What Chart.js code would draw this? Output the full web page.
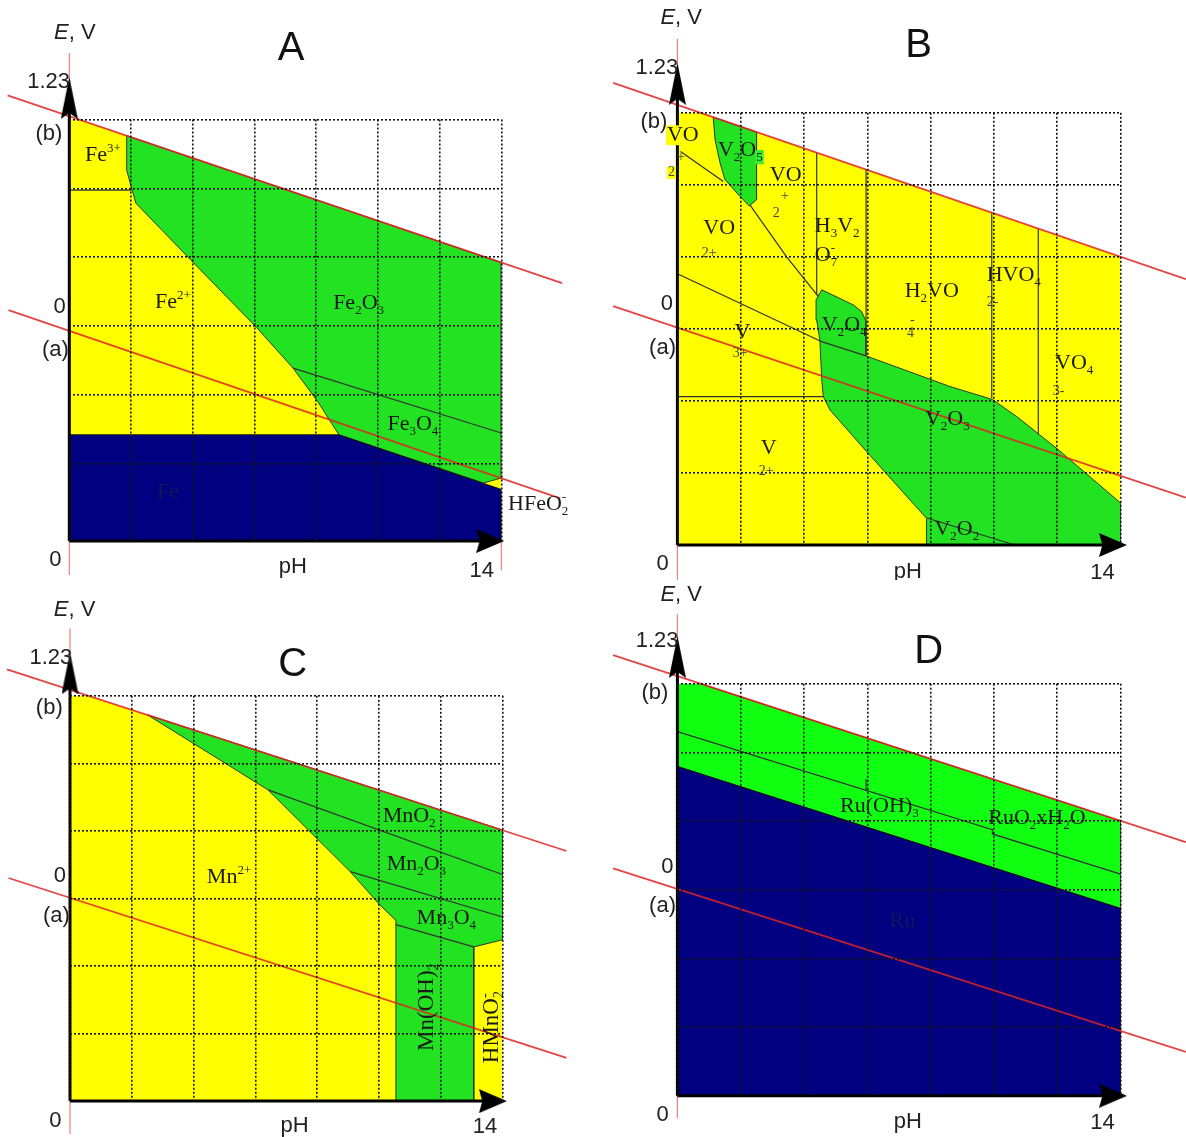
<!DOCTYPE html>
<html><head><meta charset="utf-8">
<script src="https://cdn.jsdelivr.net/npm/chart.js@4.4.1/dist/chart.umd.min.js"></script>
<style>
html,body{margin:0;padding:0;background:#fff;}
#wrap{position:relative;width:1186px;height:1137px;overflow:hidden;background:#fff;}
#wrap canvas{position:absolute;}
</style></head><body>
<div id="wrap">
<canvas id="cA" width="593" height="580" style="left:0;top:0"></canvas>
<canvas id="cB" width="593" height="580" style="left:593px;top:0"></canvas>
<canvas id="cC" width="593" height="557" style="left:0;top:580px"></canvas>
<canvas id="cD" width="593" height="557" style="left:593px;top:580px"></canvas>
</div>
<script>
// ---------- shared axis values ----------
const pHTicks = [0, 2, 4, 6, 8, 10, 12, 14];
const gridE = [-0.8, -0.4, 0, 0.4, 0.8, 1.2];
const eTop = 1.2;
const eMinA = -1.25, eMinB = -1.2, eMinC = -1.2, eMinD = -1.2;

// ---------- Panel A : Fe ----------
const A_waterB = [[-2.0, 1.340], [15.97, 0.249]];
const A_waterA = [[-1.97, 0.092], [15.91, -1.002]];
const A_yellow = [[0, 1.219], [14, 0.369], [14, -1.25], [0, -1.25]];
const A_green = [[1.86, 1.106], [14, 0.369], [14, -0.884], [13.42, -0.913], [8.74, -0.633], [8.05, -0.439], [7.25, -0.245], [6.07, -0.009], [4.08, 0.357], [2.16, 0.713], [2.02, 0.80], [1.86, 0.906]];
const A_navy = [[0, -0.633], [8.74, -0.633], [14, -0.95], [14, -1.25], [0, -1.25]];
const A_lines = [[[0, 0.79], [2.02, 0.79]], [[7.25, -0.245], [14, -0.622]]];
const A_pink = [[[0, 1.587], [0, -1.448]], [[14, -1.25], [14, -1.42]]];
const A_axisY = [[0, -1.25], [0, 1.30]];
const A_axisX = [[0, -1.25], [13.5, -1.25]];
const A_arrows = {up: [0, 1.325], right: [13.64, -1.25]};
const A_text = [
  {t: [['Fe'], ['3+', 'sup']], x: 0.51, y: 0.994, s: 'chem'},
  {t: [['Fe'], ['2+', 'sup']], x: 2.78, y: 0.136, s: 'chem'},
  {t: [['Fe'], ['2', 'sub'], ['O'], ['3', 'sub']], x: 8.55, y: 0.133, s: 'chem'},
  {t: [['Fe'], ['3', 'sub'], ['O'], ['4', 'sub']], x: 10.31, y: -0.572, s: 'chem'},
  {t: [['Fe']], x: 2.84, y: -0.966, s: 'dark'},
  {t: [['HFeO'], ['2', 'sub'], ['-', 'supx']], x: 14.22, y: -1.035, s: 'chem'},
  {t: [['E', 'i'], [', V']], x: 0.18, y: 1.703, s: 'axis'},
  {t: [['A']], x: 7.19, y: 1.61, s: 'title'},
  {t: [['1.23']], x: -0.67, y: 1.418, s: 'axis'},
  {t: [['(b)']], x: -0.66, y: 1.116, s: 'axis'},
  {t: [['0']], x: -0.31, y: 0.110, s: 'axis'},
  {t: [['(a)']], x: -0.45, y: -0.138, s: 'axis'},
  {t: [['0']], x: -0.45, y: -1.361, s: 'axis'},
  {t: [['pH']], x: 7.24, y: -1.402, s: 'axis'},
  {t: [['14']], x: 13.37, y: -1.425, s: 'axis'}
];

// ---------- Panel B : V ----------
const B_waterB = [[-2.03, 1.366], [16.06, 0.276]];
const B_waterA = [[-2.03, 0.126], [16.06, -0.937]];
const B_yellow = [[0, 1.244], [14, 0.399], [14, -1.2], [0, -1.2]];
const B_greenV2O5 = [[1.13, 1.176], [2.50, 1.093], [2.50, 0.717], [2.27, 0.683], [1.98, 0.735], [1.50, 0.83], [1.35, 0.92], [1.19, 1.05]];
const B_greenLow = [[4.56, 0.217], [5.56, 0.133], [5.82, 0.096], [5.96, 0.041], [5.96, -0.15], [8.61, -0.32], [9.95, -0.392], [10.72, -0.487], [12.02, -0.669], [14, -0.967], [14, -1.2], [7.87, -1.2], [7.87, -1.052], [5.98, -0.682], [4.82, -0.45], [4.61, -0.376], [4.56, -0.283], [4.50, -0.061], [4.40, 0.05], [4.38, 0.161]];
const B_lines = [
  [[0.1, 0.985], [1.45, 0.818]],
  [[2.29, 0.689], [3.45, 0.40], [4.45, 0.18]],
  [[0, 0.306], [4.56, -0.071], [5.96, -0.15]],
  [[0, -0.376], [4.61, -0.376]],
  [[4.40, 0.979], [4.40, 0.19]],
  [[5.96, 0.885], [5.96, 0.041]],
  [[9.93, 0.644], [9.93, -0.385]],
  [[11.40, 0.556], [11.40, -0.585]],
  [[7.88, -1.05], [10.66, -1.2]]
];
const B_pink = [[[0, 1.611], [0, -1.394]]];
const B_axisY = [[0, -1.2], [0, 1.33]];
const B_axisX = [[0, -1.2], [13.6, -1.2]];
const B_arrows = {up: [0, 1.361], right: [13.76, -1.2]};
const B_text = [
  {t: [['VO']], x: -0.33, y: 1.075, s: 'chem', bg: '#ffff00'},
  {t: [['+']], x: -0.01, y: 0.95, s: 'small'},
  {t: [['2']], x: -0.30, y: 0.867, s: 'small', bg: '#ffff00'},
  {t: [['V'], ['2', 'sub'], ['O'], ['5', 'sub', '#33ee33']], x: 1.28, y: 0.994, s: 'chem'},
  {t: [['VO']], x: 2.92, y: 0.856, s: 'chem'},
  {t: [['+']], x: 3.27, y: 0.735, s: 'small'},
  {t: [['2']], x: 3.01, y: 0.643, s: 'small'},
  {t: [['VO']], x: 0.82, y: 0.561, s: 'chem'},
  {t: [['2+']], x: 0.77, y: 0.417, s: 'small'},
  {t: [['H'], ['3', 'sub'], ['V'], ['2', 'sub']], x: 4.34, y: 0.572, s: 'chem'},
  {t: [['O'], ['7', 'sub'], ['-', 'supx']], x: 4.34, y: 0.41, s: 'chem'},
  {t: [['H'], ['2', 'sub'], ['VO']], x: 7.18, y: 0.211, s: 'chem'},
  {t: [['-']], x: 7.35, y: 0.05, s: 'small'},
  {t: [['4']], x: 7.25, y: -0.022, s: 'small'},
  {t: [['HVO'], ['4', 'sub']], x: 9.77, y: 0.30, s: 'chem'},
  {t: [['2-']], x: 9.77, y: 0.15, s: 'small'},
  {t: [['VO'], ['4', 'sub']], x: 11.93, y: -0.189, s: 'chem'},
  {t: [['3-']], x: 11.86, y: -0.344, s: 'small'},
  {t: [['V']], x: 1.80, y: -0.017, s: 'chem'},
  {t: [['3+']], x: 1.75, y: -0.133, s: 'small'},
  {t: [['V'], ['2', 'sub'], ['O'], ['4', 'sub']], x: 4.56, y: 0.022, s: 'chem'},
  {t: [['V'], ['2', 'sub'], ['O'], ['3', 'sub']], x: 7.82, y: -0.5, s: 'chem'},
  {t: [['V']], x: 2.63, y: -0.664, s: 'chem'},
  {t: [['2+']], x: 2.57, y: -0.789, s: 'small'},
  {t: [['V'], ['2', 'sub'], ['O'], ['2', 'sub']], x: 8.12, y: -1.111, s: 'chem'},
  {t: [['E', 'i'], [', V']], x: 0.12, y: 1.725, s: 'axis'},
  {t: [['B']], x: 7.62, y: 1.572, s: 'title'},
  {t: [['1.23']], x: -0.65, y: 1.447, s: 'axis'},
  {t: [['(b)']], x: -0.74, y: 1.15, s: 'axis'},
  {t: [['0']], x: -0.33, y: 0.139, s: 'axis'},
  {t: [['(a)']], x: -0.47, y: -0.104, s: 'axis'},
  {t: [['0']], x: -0.47, y: -1.306, s: 'axis'},
  {t: [['pH']], x: 7.28, y: -1.35, s: 'axis'},
  {t: [['14']], x: 13.43, y: -1.356, s: 'axis'}
];

// ---------- Panel C : Mn ----------
const C_waterB = [[-2.04, 1.357], [16.07, 0.281]];
const C_waterA = [[-1.99, 0.121], [16.07, -0.944]];
const C_yellow = [[0, 1.236], [14, 0.405], [14, -1.2], [0, -1.2]];
const C_green = [[2.5, 1.088], [14, 0.405], [14, -0.245], [13.07, -0.287], [13.07, -1.2], [10.55, -1.2], [10.55, -0.13], [10.04, -0.04], [9.07, 0.159], [6.41, 0.643]];
const C_lines = [[[6.41, 0.643], [14, 0.142]], [[9.07, 0.159], [14, -0.11]], [[10.55, -0.155], [13.07, -0.287]]];
const C_pink = [[[0, 1.599], [0, -1.395]]];
const C_axisY = [[0, -1.2], [0, 1.30]];
const C_axisX = [[0, -1.2], [13.5, -1.2]];
const C_arrows = {up: [0, 1.333], right: [13.69, -1.2]};
const C_text = [
  {t: [['Mn'], ['2+', 'sup']], x: 4.43, y: 0.128, s: 'chem'},
  {t: [['MnO'], ['2', 'sub']], x: 10.12, y: 0.486, s: 'chem'},
  {t: [['Mn'], ['2', 'sub'], ['O'], ['3', 'sub']], x: 10.25, y: 0.202, s: 'chem'},
  {t: [['Mn'], ['3', 'sub'], ['O'], ['4', 'sub']], x: 11.22, y: -0.117, s: 'chem'},
  {t: [['Mn(OH)'], ['2', 'sub']], x: 11.54, y: -0.644, s: 'rot'},
  {t: [['HMnO'], ['2', 'sub'], ['-', 'supx']], x: 13.66, y: -0.762, s: 'rot'},
  {t: [['E', 'i'], [', V']], x: 0.15, y: 1.709, s: 'axis'},
  {t: [['C']], x: 7.21, y: 1.383, s: 'title'},
  {t: [['1.23']], x: -0.62, y: 1.425, s: 'axis'},
  {t: [['(b)']], x: -0.67, y: 1.131, s: 'axis'},
  {t: [['0']], x: -0.33, y: 0.133, s: 'axis'},
  {t: [['(a)']], x: -0.44, y: -0.104, s: 'axis'},
  {t: [['0']], x: -0.47, y: -1.317, s: 'axis'},
  {t: [['pH']], x: 7.27, y: -1.348, s: 'axis'},
  {t: [['14']], x: 13.43, y: -1.354, s: 'axis'}
];

// ---------- Panel D : Ru ----------
const D_waterB = [[-2.03, 1.366], [16.06, 0.277]];
const D_waterA = [[-2.03, 0.124], [16.06, -0.944]];
const D_green = [[0, 1.244], [14, 0.401], [14, -0.109], [0, 0.718]];
const D_navy = [[0, 0.718], [14, -0.109], [14, -1.2], [0, -1.2]];
const D_lines = [[[0, 0.921], [9.95, 0.35], [9.95, 0.325], [14, 0.091]], [[5.96, 0.579], [5.96, 0.645]]];
const D_pink = [[[0, 1.606], [0, -1.329]]];
const D_axisY = [[0, -1.2], [0, 1.33]];
const D_axisX = [[0, -1.2], [13.6, -1.2]];
const D_arrows = {up: [0, 1.356], right: [13.76, -1.2]};
const D_text = [
  {t: [['Ru(OH)'], ['3', 'sub']], x: 5.14, y: 0.488, s: 'chem'},
  {t: [['RuO'], ['2', 'sub'], ['xH'], ['2', 'sub'], ['O']], x: 9.82, y: 0.418, s: 'chem'},
  {t: [['Ru']], x: 6.70, y: -0.182, s: 'dark'},
  {t: [['E', 'i'], [', V']], x: 0.12, y: 1.717, s: 'axis'},
  {t: [['D']], x: 7.94, y: 1.385, s: 'title'},
  {t: [['1.23']], x: -0.64, y: 1.447, s: 'axis'},
  {t: [['(b)']], x: -0.71, y: 1.147, s: 'axis'},
  {t: [['0']], x: -0.32, y: 0.133, s: 'axis'},
  {t: [['(a)']], x: -0.47, y: -0.094, s: 'axis'},
  {t: [['0']], x: -0.47, y: -1.314, s: 'axis'},
  {t: [['pH']], x: 7.28, y: -1.351, s: 'axis'},
  {t: [['14']], x: 13.43, y: -1.356, s: 'axis'}
];

// ---------- styles ----------
const YELLOW = '#ffff00', GREEN = '#22e222', LIME = '#11ff11', NAVY = '#000080';
const RED = 'rgba(225,35,35,0.85)', PINK = 'rgba(225,100,100,0.8)', LINE = '#333333', EDGE = '#2a3a2a';
const STY = {
  chem: {size: 22, family: 'Liberation Serif', color: '#1a1a1a', align: 'left'},
  small: {size: 14, family: 'Liberation Serif', color: '#444444', align: 'left'},
  dark: {size: 22, family: 'Liberation Serif', color: '#15155a', align: 'left'},
  rot: {size: 23, family: 'Liberation Serif', color: '#1a1a1a', align: 'center', rot: -90},
  axis: {size: 22, family: 'Liberation Sans', color: '#222222', align: 'center'},
  title: {size: 40, family: 'Liberation Sans', color: '#111111', align: 'center'}
};

function makeArrow(w, h, dir) {
  const c = document.createElement('canvas');
  c.width = w; c.height = h;
  const g = c.getContext('2d');
  g.fillStyle = '#000';
  g.beginPath();
  if (dir === 'up') { g.moveTo(w / 2, 0); g.lineTo(w, h); g.lineTo(w / 2, h * 0.86); g.lineTo(0, h); }
  else { g.moveTo(w, h / 2); g.lineTo(0, 0); g.lineTo(w * 0.12, h / 2); g.lineTo(0, h); }
  g.closePath(); g.fill();
  return c;
}
const ARROW_UP = makeArrow(17, 42, 'up');
const ARROW_RIGHT = makeArrow(28, 24, 'right');

const P = a => a.map(([x, y]) => ({x, y}));
function polyDS(pts, color, border, bw, order) {
  return {data: P(pts.concat([pts[0]])), showLine: true, fill: 'shape', backgroundColor: color,
    borderColor: border, borderWidth: bw, pointRadius: 0, order};
}
function lineDS(pts, color, width, order) {
  return {data: P(pts), showLine: true, fill: false, borderColor: color, backgroundColor: color,
    borderWidth: width, pointRadius: 0, order, clip: false};
}
function arrowDS(pt, img, order) {
  return {data: P([pt]), showLine: false, pointStyle: img, pointRadius: 45, order, clip: false};
}

function drawRich(ctx, parts, x, y, st, L) {
  const S = st.size, fam = st.family, smallS = Math.round(S * 0.6);
  const font = m => (m === 'i' ? 'italic ' : '') + ((m === 'sub' || m === 'sup' || m === 'supx') ? smallS : S) + 'px "' + fam + '"';
  let w = 0, prevX = 0;
  const items = [];
  for (const p of parts) {
    const txt = p[0], m = p[1] || '', pbg = p[2];
    ctx.font = font(m);
    const tw = ctx.measureText(txt).width;
    let px;
    if (m === 'supx') { px = prevX; w = Math.max(w, px + tw); }
    else { px = w; prevX = w; w += tw; }
    items.push({txt, m, px, tw, pbg});
  }
  ctx.save();
  ctx.translate(x, y);
  if (st.rot) ctx.rotate(st.rot * Math.PI / 180);
  const x0 = st.align === 'center' ? -w / 2 : 0;
  if (L.bg) { ctx.fillStyle = L.bg; ctx.fillRect(x0 - 1, -S * 0.45, w + 2, S * 0.9); }
  ctx.textBaseline = 'middle'; ctx.textAlign = 'left';
  for (const it of items) {
    const dy = it.m === 'sub' ? S * 0.33 : (it.m === 'sup' || it.m === 'supx') ? -S * 0.3 : 0;
    ctx.font = font(it.m);
    if (it.pbg) { ctx.fillStyle = it.pbg; ctx.fillRect(x0 + it.px - 1, dy - smallS * 0.55, it.tw + 2, smallS * 1.1); }
    ctx.fillStyle = st.color;
    ctx.fillText(it.txt, x0 + it.px, dy);
  }
  ctx.restore();
}

function labelPlugin(labels) {
  return {
    id: 'labels',
    afterDraw(chart) {
      const ctx = chart.ctx, xs = chart.scales.x, ys = chart.scales.y;
      for (const L of labels) drawRich(ctx, L.t, xs.getPixelForValue(L.x), ys.getPixelForValue(L.y), STY[L.s], L);
    }
  };
}

function makeChart(id, pad, yMin, datasets, labels) {
  new Chart(document.getElementById(id), {
    type: 'scatter',
    data: {datasets},
    options: {
      responsive: false, animation: false, devicePixelRatio: 1, events: [],
      layout: {padding: pad, autoPadding: false},
      plugins: {legend: {display: false}, tooltip: {enabled: false}},
      scales: {
        x: {type: 'linear', min: 0, max: 14,
          afterBuildTicks: s => { s.ticks = pHTicks.map(v => ({value: v})); },
          ticks: {display: false},
          grid: {color: '#151515', lineWidth: 1.6, drawTicks: false, z: 1},
          border: {display: false, dash: [2, 2]}},
        y: {type: 'linear', min: yMin, max: eTop,
          afterBuildTicks: s => { s.ticks = gridE.map(v => ({value: v})); },
          ticks: {display: false},
          grid: {color: '#151515', lineWidth: 1.6, drawTicks: false, z: 1},
          border: {display: false, dash: [2, 2]}}
      }
    },
    plugins: [labelPlugin(labels)]
  });
}

function common(lines, pink, waterB, waterA, axisY, axisX, arrows) {
  const ds = [];
  lines.forEach(l => ds.push(lineDS(l, LINE, 1.2, 20)));
  pink.forEach(l => ds.push(lineDS(l, PINK, 1.2, 12)));
  ds.push(lineDS(waterB, RED, 1.8, 10));
  ds.push(lineDS(waterA, RED, 1.8, 10));
  ds.push(lineDS(axisY, '#000', 3, 5));
  ds.push(lineDS(axisX, '#000', 3, 5));
  ds.push(arrowDS(arrows.up, ARROW_UP, 4));
  ds.push(arrowDS(arrows.right, ARROW_RIGHT, 4));
  return ds;
}

makeChart('cA', {left: 69.3, top: 119.5, right: 91.7, bottom: 39}, eMinA, [
  polyDS(A_yellow, YELLOW, 'rgba(0,0,0,0)', 0, 50),
  polyDS(A_green, GREEN, EDGE, 1, 40),
  polyDS(A_navy, NAVY, '#111', 1, 39),
  ...common(A_lines, A_pink, A_waterB, A_waterA, A_axisY, A_axisX, A_arrows)
], A_text);

makeChart('cB', {left: 84.4, top: 112.8, right: 65.4, bottom: 35}, eMinB, [
  polyDS(B_yellow, YELLOW, 'rgba(0,0,0,0)', 0, 50),
  polyDS(B_greenV2O5, GREEN, EDGE, 1, 40),
  polyDS(B_greenLow, GREEN, EDGE, 1, 40),
  ...common(B_lines, B_pink, B_waterB, B_waterA, B_axisY, B_axisX, B_arrows)
], B_text);

makeChart('cC', {left: 70, top: 115.8, right: 90.5, bottom: 35.9}, eMinC, [
  polyDS(C_yellow, YELLOW, 'rgba(0,0,0,0)', 0, 50),
  polyDS(C_green, GREEN, EDGE, 1, 40),
  ...common(C_lines, C_pink, C_waterB, C_waterA, C_axisY, C_axisX, C_arrows)
], C_text);

makeChart('cD', {left: 84.4, top: 103.7, right: 65.4, bottom: 41.2}, eMinD, [
  polyDS(D_green, LIME, EDGE, 1, 40),
  polyDS(D_navy, NAVY, '#111', 1, 39),
  ...common(D_lines, D_pink, D_waterB, D_waterA, D_axisY, D_axisX, D_arrows)
], D_text);
</script>
</body></html>
